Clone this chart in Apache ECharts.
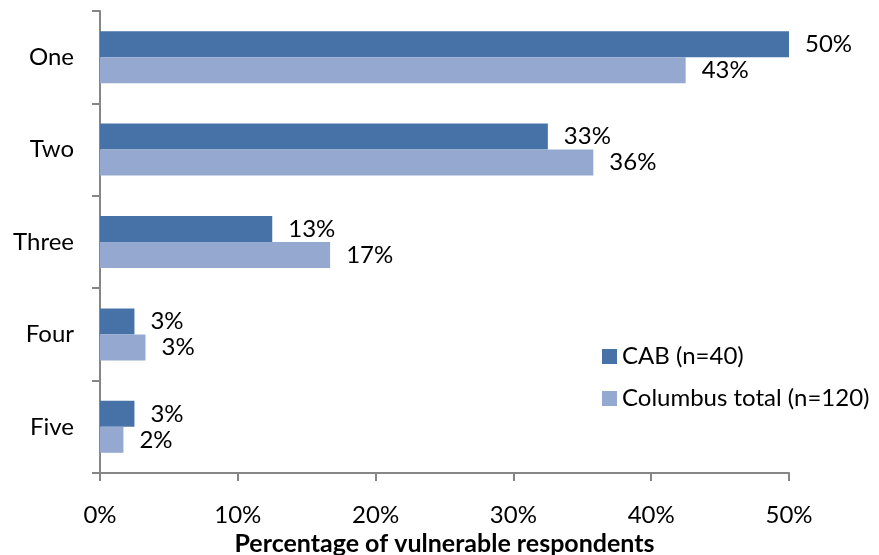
<!DOCTYPE html>
<html>
<head>
<meta charset="utf-8">
<script src="https://cdn.jsdelivr.net/npm/echarts@6/dist/echarts.min.js"></script>
<style>
  html, body { margin: 0; padding: 0; background: #fff; }
  #chart { width: 879px; height: 555px; }
</style>
</head>
<body>
<div id="chart"></div>
<script>
// Number of items, share of vulnerable respondents (%)
const categories = ['One', 'Two', 'Three', 'Four', 'Five'];
const cabValues = [50, 32.5, 12.5, 2.5, 2.5];              // CAB, n=40
const columbusValues = [42.5, 35.8, 16.7, 3.3, 1.7];      // Columbus total, n=120
const seriesNames = ['CAB (n=40)', 'Columbus total (n=120)'];
const xTicks = { min: 0, max: 50, step: 10 };

const FONT = 'Lato';
const FS = 24;
const axisGray = '#868686';

const valueLabel = {
  show: true,
  position: 'right',
  distance: 16,
  color: '#000',
  fontFamily: FONT,
  fontSize: FS,
  formatter: p => Math.round(p.value) + '%'
};

const chart = echarts.init(document.getElementById('chart'), null, { renderer: 'canvas' });
chart.setOption({
  animation: false,
  backgroundColor: '#fff',
  grid: { left: 100, right: 90, top: 11, bottom: 82, containLabel: false, outerBoundsMode: 'none' },
  legend: {
    orient: 'vertical',
    left: 597,
    top: 337,
    itemWidth: 15,
    itemHeight: 15,
    itemGap: 13,
    icon: 'rect',
    textStyle: { fontFamily: FONT, fontSize: FS, color: '#000', lineHeight: 29, padding: [0, 0, 0, 0] },
    data: seriesNames
  },
  xAxis: {
    type: 'value',
    min: xTicks.min,
    max: xTicks.max,
    interval: xTicks.step,
    name: 'Percentage of vulnerable respondents',
    nameLocation: 'middle',
    nameGap: 55,
    nameTextStyle: { fontFamily: FONT, fontSize: 25, fontWeight: 'bold', color: '#000' },
    axisLine: { show: true, lineStyle: { color: axisGray, width: 2 } },
    axisTick: { show: true, length: 8, lineStyle: { color: axisGray, width: 2 } },
    axisLabel: { margin: 30, fontFamily: FONT, fontSize: FS, color: '#000', formatter: '{value}%' },
    splitLine: { show: false }
  },
  yAxis: {
    type: 'category',
    inverse: true,
    data: categories,
    axisLine: { show: true, lineStyle: { color: axisGray, width: 2 } },
    axisTick: { show: true, length: 8, lineStyle: { color: axisGray, width: 2 } },
    axisLabel: { margin: 26, fontFamily: FONT, fontSize: FS, color: '#000' }
  },
  series: [
    {
      name: seriesNames[0],
      type: 'bar',
      data: cabValues,
      barWidth: 26,
      barGap: '0%',
      itemStyle: { color: '#4672A8' },
      label: valueLabel
    },
    {
      name: seriesNames[1],
      type: 'bar',
      data: columbusValues,
      barWidth: 26,
      barGap: '0%',
      itemStyle: { color: '#95A9D0' },
      label: valueLabel
    }
  ]
});
</script>
</body>
</html>
